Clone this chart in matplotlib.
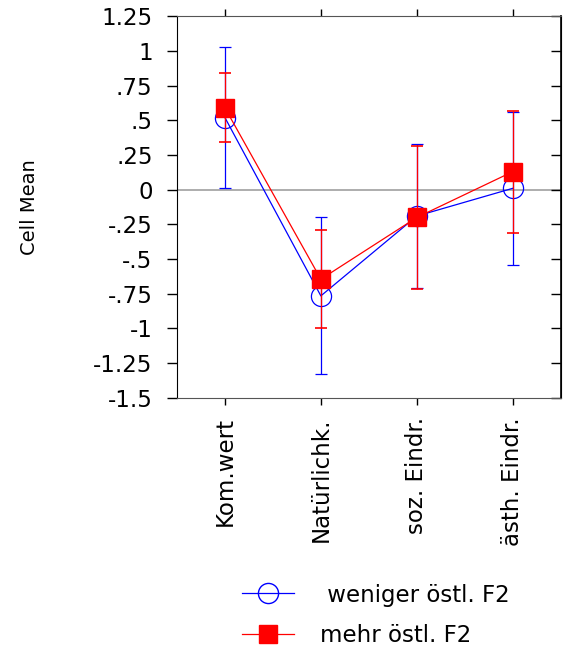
import matplotlib.pyplot as plt
from matplotlib.lines import Line2D

categories = ['Kom.wert', 'Natürlichk.', 'soz. Eindr.', 'ästh. Eindr.']
weniger_mean = [0.52, -0.765, -0.19, 0.01]
weniger_err = [0.51, 0.565, 0.52, 0.55]
mehr_mean = [0.59, -0.645, -0.20, 0.13]
mehr_err = [0.25, 0.355, 0.515, 0.44]
ytick_values = [1.25, 1, 0.75, 0.5, 0.25, 0, -0.25, -0.5, -0.75, -1, -1.25, -1.5]
ytick_labels = ['1.25', '1', '.75', '.5', '.25', '0', '-.25', '-.5', '-.75', '-1', '-1.25', '-1.5']

plt.rcParams['font.family'] = ['DejaVu Sans']

fig = plt.figure(figsize=(5.67, 6.47), dpi=100)
ax = fig.add_axes([0.312, 0.385, 0.677, 0.59])

x = list(range(len(categories)))
ax.axhline(0, color='#a0a0a0', lw=1.2, zorder=0)

ax.errorbar(x, weniger_mean, yerr=weniger_err, color='blue', lw=0.9,
            elinewidth=0.9, capsize=4.5, capthick=1.2, marker='o', ms=14.5,
            mfc='none', mec='blue', mew=0.9, zorder=2)
ax.errorbar(x, mehr_mean, yerr=mehr_err, color='red', lw=0.9,
            elinewidth=0.9, capsize=4.5, capthick=1.2, marker='s', ms=13.5,
            mfc='red', mec='red', zorder=3)

ax.set_xlim(-0.5, 3.5)
ax.set_ylim(-1.5, 1.25)
ax.set_xticks(x)
ax.set_xticklabels(categories, rotation=90, fontsize=16.5)
ax.set_yticks(ytick_values)
ax.set_yticklabels(ytick_labels, fontsize=16.5)
ax.tick_params(axis='y', which='both', left=True, right=False, direction='out',
               length=7.5, width=1, pad=10)
ax.tick_params(axis='x', direction='out', length=5, width=1, top=True, bottom=True,
               pad=9)
# inward ticks on the right spine
ax_r = ax.secondary_yaxis('right')
ax_r.set_yticks(ytick_values)
ax_r.tick_params(direction='in', length=7.5, width=1, labelright=False)
ax_r.spines['right'].set_linewidth(1.2)
for side in ['top', 'bottom']:
    ax.spines[side].set_color('#555555')
ax.set_ylabel('Cell Mean', fontsize=14)
ax.yaxis.set_label_coords(-0.36, 0.5)

handles = [
    Line2D([], [], color='blue', lw=0.9, marker='o', ms=14.5, mfc='none', mec='blue'),
    Line2D([], [], color='red', lw=0.9, marker='s', ms=13.5, mfc='red', mec='red'),
]
fig.legend(handles, [' weniger östl. F2', 'mehr östl. F2'], loc='upper left',
           bbox_to_anchor=(0.39, 0.13), frameon=False, fontsize=16.5,
           handlelength=2.3, labelspacing=0.75, handletextpad=1.1)

fig.savefig('out.png', dpi=100)
